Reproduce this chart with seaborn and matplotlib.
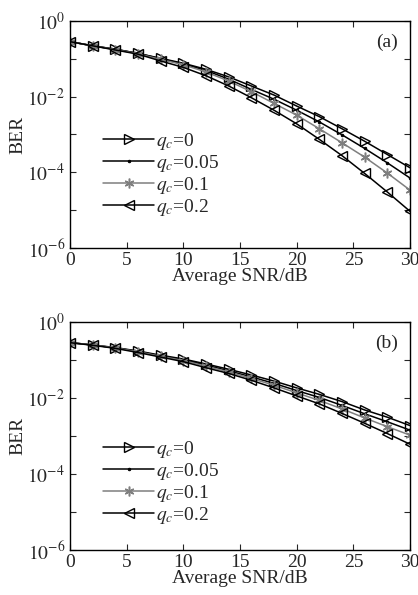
import numpy as np
import pandas as pd
import matplotlib
matplotlib.use("Agg")
import matplotlib.pyplot as plt
import matplotlib.ticker as mticker
import seaborn as sns

snr_db = [0, 2, 4, 6, 8, 10, 12, 14, 16, 18, 20, 22, 24, 26, 28, 30]
qc_labels = ["$q_c$=0", "$q_c$=0.05", "$q_c$=0.1", "$q_c$=0.2"]

# Panel (a): log10(BER)
log_ber_a_q0 = [-0.55, -0.66, -0.75, -0.86, -0.99, -1.12, -1.28, -1.48, -1.72, -1.96, -2.25, -2.53, -2.85, -3.18, -3.53, -3.88]
log_ber_a_q005 = [-0.55, -0.66, -0.75, -0.86, -1.00, -1.14, -1.31, -1.54, -1.81, -2.07, -2.36, -2.67, -3.01, -3.37, -3.75, -4.15]
log_ber_a_q01 = [-0.55, -0.66, -0.76, -0.87, -1.02, -1.16, -1.35, -1.59, -1.87, -2.18, -2.49, -2.85, -3.22, -3.60, -4.02, -4.47]
log_ber_a_q02 = [-0.55, -0.66, -0.77, -0.88, -1.06, -1.23, -1.45, -1.72, -2.03, -2.36, -2.72, -3.13, -3.56, -4.03, -4.52, -5.03]

# Panel (b): log10(BER)
log_ber_b_q0 = [-0.55, -0.61, -0.68, -0.77, -0.88, -0.98, -1.11, -1.25, -1.40, -1.56, -1.74, -1.91, -2.10, -2.32, -2.51, -2.73]
log_ber_b_q005 = [-0.55, -0.61, -0.69, -0.78, -0.90, -1.00, -1.14, -1.29, -1.45, -1.62, -1.81, -1.99, -2.20, -2.42, -2.63, -2.85]
log_ber_b_q01 = [-0.55, -0.61, -0.69, -0.79, -0.91, -1.02, -1.17, -1.32, -1.49, -1.67, -1.87, -2.07, -2.29, -2.53, -2.76, -2.98]
log_ber_b_q02 = [-0.55, -0.62, -0.70, -0.81, -0.93, -1.05, -1.21, -1.36, -1.54, -1.74, -1.95, -2.16, -2.41, -2.67, -2.94, -3.22]

panels = [
    ("(a)", [log_ber_a_q0, log_ber_a_q005, log_ber_a_q01, log_ber_a_q02]),
    ("(b)", [log_ber_b_q0, log_ber_b_q005, log_ber_b_q01, log_ber_b_q02]),
]

asterisk = (6, 2, 0)
styles = [
    dict(color="black", marker=">", markersize=6.5, markerfacecolor="none", markeredgecolor="black", markeredgewidth=1.0),
    dict(color="black", marker=".", markersize=3.5, markerfacecolor="black", markeredgecolor="black"),
    dict(color="#7f7f7f", marker=asterisk, markersize=7, markeredgecolor="#7f7f7f", markeredgewidth=1.1),
    dict(color="black", marker="<", markersize=6.5, markerfacecolor="none", markeredgecolor="black", markeredgewidth=1.0),
]

sns.set_style("ticks")
plt.rcParams["font.family"] = ["Liberation Serif", "DejaVu Serif"]
plt.rcParams["mathtext.fontset"] = "stix"
plt.rcParams["xtick.direction"] = "in"
plt.rcParams["ytick.direction"] = "in"

fig = plt.figure(figsize=(4.18, 5.95), dpi=100)
ax_rects = [
    [0.1675, 0.583, 0.8135, 0.382],
    [0.1675, 0.0756, 0.8135, 0.3837],
]
legend_y = [0.325, 0.295]

for (tag, series), rect, ly in zip(panels, ax_rects, legend_y):
    ax = fig.add_axes(rect)
    for vals, lab, st in zip(series, qc_labels, styles):
        df = pd.DataFrame({"snr": snr_db, "ber": 10.0 ** np.array(vals)})
        sns.lineplot(data=df, x="snr", y="ber", ax=ax, label=lab,
                     linewidth=1.1, **st)
    ax.set_yscale("log")
    ax.set_xlim(0, 30)
    ax.set_ylim(1e-6, 1)
    ax.set_xticks([0, 5, 10, 15, 20, 25, 30])
    ax.yaxis.set_major_locator(mticker.FixedLocator([1e0, 1e-1, 1e-2, 1e-3, 1e-4, 1e-5, 1e-6]))
    ax.yaxis.set_minor_locator(mticker.NullLocator())
    ax.yaxis.set_major_formatter(mticker.FuncFormatter(
        lambda v, p: (r"$10^{%d}$" % round(np.log10(v))) if round(np.log10(v)) % 2 == 0 else ""))
    ax.tick_params(axis="both", which="major", direction="in", top=True, right=True,
                   length=4, width=0.8, labelsize=14)
    ax.tick_params(axis="x", pad=3)
    ax.tick_params(axis="y", pad=3.5)
    for s in ax.spines.values():
        s.set_linewidth(1.0)
        s.set_color("black")
    ax.set_xlabel("Average SNR/dB", fontsize=14, labelpad=-1)
    ax.set_ylabel("BER", fontsize=14, labelpad=1)
    ax.text(0.965, 0.905, tag, transform=ax.transAxes, ha="right", va="center", fontsize=14)
    ax.legend(loc="center left", bbox_to_anchor=(0.075, ly), frameon=False,
              fontsize=14, handlelength=2.6, handletextpad=0.1, labelspacing=0.05,
              borderaxespad=0.0)

fig.savefig("out.png", dpi=100)
